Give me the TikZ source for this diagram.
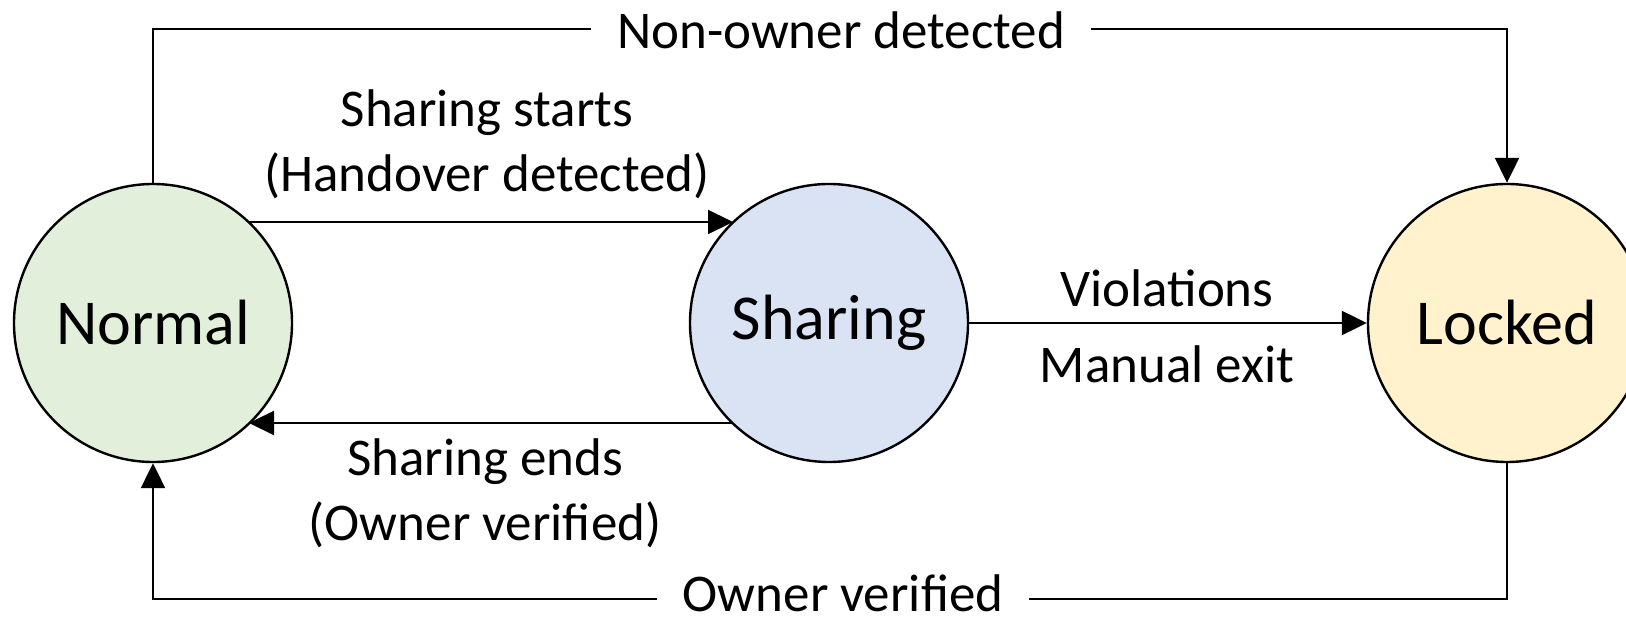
\documentclass[tikz,border=0pt]{standalone}
\usepackage{fontspec}
\setmainfont{Carlito}
\usetikzlibrary{arrows.meta}
\definecolor{cgreen}{HTML}{E2EFDA}
\definecolor{cblue}{HTML}{DAE3F3}
\definecolor{cyellow}{HTML}{FFF2CC}
\tikzset{
  state/.style={circle, draw=black, line width=2.4pt, minimum size=278pt, inner sep=0pt, font=\fontsize{64}{64}\selectfont},
  conn/.style={line width=2.2pt, draw=black},
  arr/.style={conn, -{Triangle[length=25pt,width=24pt]}},
  lbl/.style={font=\fontsize{53}{65}\selectfont, align=center, inner sep=0pt},
  gaplbl/.style={font=\fontsize{53}{65}\selectfont, fill=white, inner xsep=26pt, inner ysep=0pt, text depth=0pt}
}
\begin{document}
\begin{tikzpicture}[x=1pt,y=-1pt]
\useasboundingbox (0,0) rectangle (1626,617);
\clip (0,0) rectangle (1626,617);
\fill[white] (0,0) rectangle (1626,617);
\node[state, fill=cgreen] (N) at (153,323) {Normal};
\node[state, fill=cblue] (S) at (829,323) {Sharing};
\node[state, fill=cyellow] (L) at (1507,323) {Locked};
\coordinate (tl) at (153,29);
\coordinate (tr) at (1507,29);
\coordinate (bl) at (153,599);
\coordinate (br) at (1507,599);
\draw[arr] (N.north) -- (tl) -- (tr) -- (L.north);
\draw[arr] (L.south) -- (br) -- (bl) -- (N.south);
\path (N.center) ++(96,-101) coordinate (ns);
\path (S.center) ++(-96,-101) coordinate (sn);
\path (S.center) ++(-96,100) coordinate (sb);
\path (N.center) ++(96,100) coordinate (nb);
\draw[arr] (ns) -- (sn);
\draw[arr] (sb) -- (nb);
\draw[arr] (S.east) -- (L.west);
\node[gaplbl] (t1) at (841,30) {Non-owner detected};
\node[gaplbl] (t2) at (843,593) {Owner verified};
\node[lbl] (t3) at (487,144) {Sharing starts\\(Handover detected)};
\node[lbl] (t4) at (485,493) {Sharing ends\\(Owner verified)};
\node[lbl] (t5) at (1167,288) {Violations};
\node[lbl] (t6) at (1167,364) {Manual exit};
\end{tikzpicture}
\end{document}
